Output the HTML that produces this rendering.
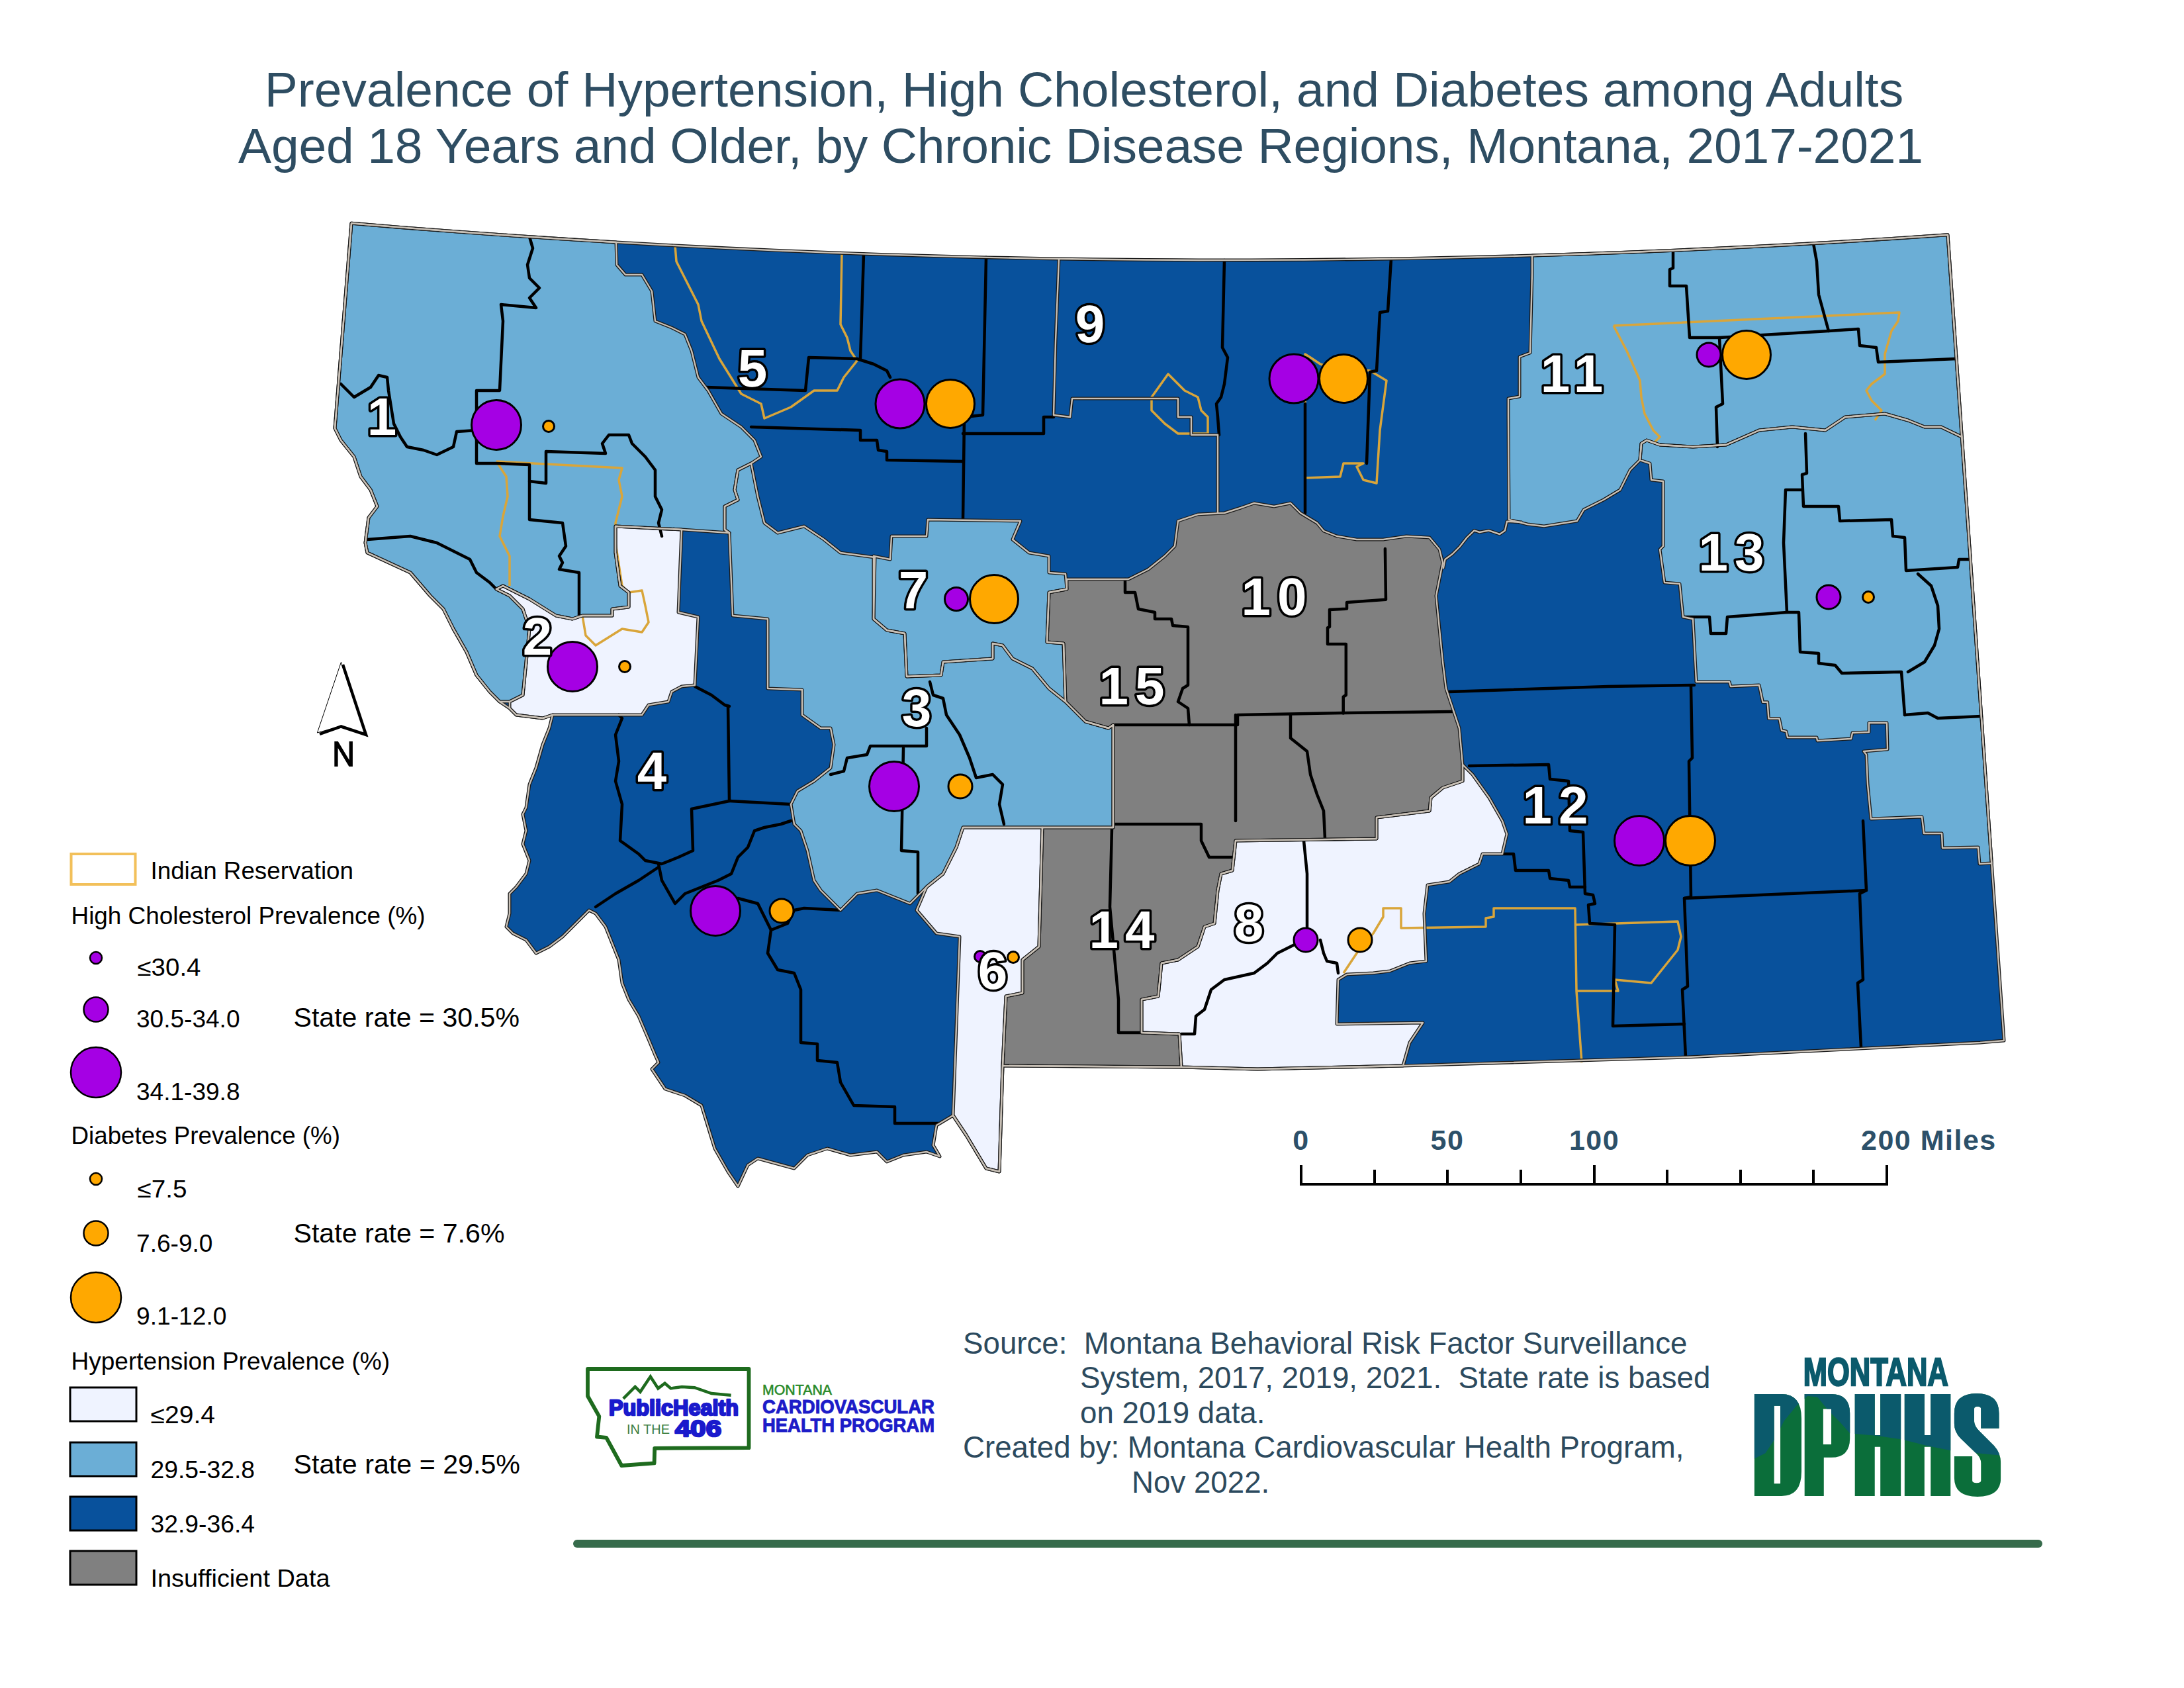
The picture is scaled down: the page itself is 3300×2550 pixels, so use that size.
<!DOCTYPE html><html><head><meta charset="utf-8"><title>Montana Chronic Disease Regions</title><style>html,body{margin:0;padding:0;background:#fff;}svg{display:block;}</style></head><body>
<svg width="3300" height="2550" viewBox="0 0 3300 2550" font-family="'Liberation Sans', sans-serif">
<rect width="3300" height="2550" fill="#fff"/>
<g fill="#2e4d62" font-size="75" text-anchor="middle">
<text x="1638" y="161">Prevalence of Hypertension, High Cholesterol, and Diabetes among Adults</text>
<text x="1633" y="246" textLength="2546" lengthAdjust="spacing">Aged 18 Years and Older, by Chronic Disease Regions, Montana, 2017-2021</text>
</g>
<polygon points="531,337.3 611,343.9 691,350 771,355.7 851,361.1 931,366 1011,370.5 1091,374.6 1171,378.2 1251,381.5 1331,384.4 1411,386.8 1491,388.9 1571,390.5 1651,391.7 1731,392.5 1811,393 1891,392.9 1971,392.5 2051,391.7 2131,390.5 2211,388.8 2291,386.8 2371,384.3 2451,381.4 2531,378.2 2611,374.5 2691,370.4 2771,365.9 2851,360.9 2931,355.6 2943,354.8 3028,1572 2992,1575 2550,1597 2120,1610 1900,1615 1782,1612 1515,1610 1510,1770 1490,1765 1460,1715 1440,1685 1415,1700 1410,1730 1420,1747 1400,1740 1365,1745 1340,1755 1325,1740 1285,1745 1250,1735 1220,1745 1200,1765 1145,1750 1130,1760 1115,1792 1100,1770 1080,1735 1060,1670 1035,1655 1005,1645 985,1615 995,1605 990,1594 980,1570 965,1535 950,1510 940,1485 935,1450 925,1425 915,1400 900,1380 890,1375 870,1395 850,1415 830,1430 810,1440 795,1420 775,1410 765,1400 770,1380 770,1350 780,1340 795,1320 800,1300 790,1275 795,1255 790,1230 795,1220 800,1185 810,1160 820,1125 830,1100 835,1080 820,1085 780,1080 770,1070 755,1060 740,1045 720,1020 705,985 685,950 670,920 650,900 620,865 555,835 552,820 557,782 570,765 560,740 545,720 535,690 515,665 506,647" fill="#08519c"/>
<polygon points="531,337.3 611,343.9 691,350 771,355.7 851,361.1 931,366 932,400 945,415 970,415 985,440 990,485 1015,495 1035,505 1045,530 1055,570 1070,590 1090,625 1120,645 1140,665 1150,690 1135,700 1115,710 1110,740 1115,755 1095,765 1095,800 1102,805 1030,800 930,795 930,835 937,885 950,895 950,917 925,920 925,930 880,930 865,935 840,930 800,905 760,885 750,890 770,900 790,920 800,950 795,1000 790,1050 770,1060 755,1060 740,1045 720,1020 705,985 685,950 670,920 650,900 620,865 555,835 552,820 557,782 570,765 560,740 545,720 535,690 515,665 506,647" fill="#6baed6"/>
<polygon points="1135,700 1140,725 1145,750 1155,790 1175,805 1215,795 1245,815 1270,835 1322,842 1320,935 1340,952 1367,957 1370,1022 1422,1020 1425,1000 1500,995 1500,972 1515,975 1530,995 1560,1010 1585,1040 1610,1060 1640,1090 1675,1100 1682,1095 1682,1250 1455,1250 1445,1280 1425,1320 1400,1340 1375,1365 1350,1355 1325,1345 1295,1350 1270,1375 1240,1345 1230,1330 1220,1285 1210,1255 1200,1245 1195,1215 1205,1195 1230,1180 1255,1160 1260,1125 1255,1100 1240,1100 1212,1080 1212,1042 1160,1040 1160,935 1107,930 1102,805 1095,800 1095,765 1115,755 1110,740 1115,710" fill="#6baed6"/>
<polygon points="1320,840 1345,845 1347,810 1400,810 1402,785 1542,787 1530,815 1555,835 1585,840 1585,865 1610,867 1612,890 1585,895 1582,970 1607,972 1610,1060 1585,1040 1560,1010 1530,995 1515,975 1500,972 1500,995 1425,1000 1422,1020 1370,1022 1367,957 1340,952 1320,935" fill="#6baed6"/>
<polygon points="2315,386.1 2395,383.5 2475,380.5 2555,377.1 2635,373.3 2715,369.1 2795,364.4 2875,359.4 2943,354.8 2964.3,660 2933,645 2908,645 2883,635 2848,625 2788,630 2758,650 2708,645 2658,650 2608,672 2558,675 2508,672 2488,665 2480,670 2478,695 2463,710 2448,740 2423,755 2393,770 2383,787 2333,795 2308,792 2280,785 2279,627 2279,602 2296,599 2296,539 2312,533 2315,412" fill="#6baed6"/>
<polygon points="2478,695 2480,670 2488,665 2508,672 2558,675 2608,672 2658,650 2708,645 2758,650 2788,630 2848,625 2883,635 2908,645 2933,645 2964.3,660 3009.28,1304 2991,1305 2989,1280 2935,1281 2934,1259 2907,1259 2904,1234 2827,1237 2822,1185 2820,1140 2816,1135 2852,1132 2851,1092 2824,1092 2824,1106 2799,1107 2797,1116 2746,1119 2745,1114 2701,1114 2699,1105 2692,1103.3 2688.4,1085.5 2672.4,1085.5 2670.6,1060.7 2663.5,1060.7 2658,1035 2615,1037 2613,1030 2563,1030 2558,935 2543,932 2538,882 2515,880 2508,830 2513,825 2513,727 2495,725 2493,700" fill="#6baed6"/>
<polygon points="930,795 1030,800 1025,925 1055,932 1050,1035 1030,1037 1015,1045 1010,1060 980,1065 970,1080 835,1080 820,1085 780,1080 770,1070 770,1060 790,1050 795,1000 800,950 790,920 770,900 750,890 760,885 800,905 840,930 865,935 880,930 925,930 925,920 950,917 950,895 937,885 930,835" fill="#eff3ff"/>
<polygon points="1455,1250 1575,1250 1570,1430 1545,1450 1545,1500 1520,1505 1515,1610 1510,1770 1490,1765 1460,1715 1440,1685 1450,1415 1415,1410 1385,1375 1400,1340 1425,1320 1445,1280" fill="#eff3ff"/>
<polygon points="1867,1270 2080,1267 2080,1235 2160,1225 2162,1205 2180,1190 2210,1180 2210,1155 2225,1170 2250,1205 2270,1240 2277,1260 2270,1290 2240,1290 2235,1305 2205,1320 2190,1332 2157,1337 2152,1380 2155,1452 2130,1455 2100,1467 2075,1470 2035,1472 2022,1480 2020,1547 2150,1545 2130,1575 2120,1610 1900,1615 1785,1612 1782,1562 1725,1560 1725,1510 1750,1505 1755,1455 1780,1450 1810,1430 1820,1400 1835,1395 1840,1345 1845,1320 1862,1315" fill="#eff3ff"/>
<polygon points="1612,875 1705,875 1735,860 1760,840 1775,825 1780,787 1810,777 1850,775 1875,767 1895,760 1925,765 1950,760 1965,775 1990,790 2000,802 2020,810 2050,815 2090,815 2125,810 2160,812 2175,830 2180,850 2170,900 2175,950 2180,1000 2185,1040 2195,1070 2205,1100 2210,1155 2210,1180 2180,1190 2162,1205 2160,1225 2080,1235 2080,1267 1867,1270 1862,1315 1845,1320 1840,1345 1835,1395 1820,1400 1810,1430 1780,1450 1755,1455 1750,1505 1725,1510 1725,1560 1782,1562 1785,1612 1515,1610 1520,1505 1545,1500 1545,1450 1570,1430 1575,1250 1682,1250 1682,1095 1675,1100 1640,1090 1610,1060 1607,972 1582,970 1585,895 1612,890" fill="#808080"/>
<g fill="none" stroke="#d9a53a" stroke-width="3.5" stroke-linejoin="round">
<polyline points="1020,370.955 1022,395 1055,460 1060,485 1087,542 1120,595 1150,610 1155,632 1195,615 1230,590 1265,590 1275,570 1295,545 1285,530 1280,510 1270,490 1272,382.309"/>
<polyline points="750,697 940,707 935,725 940,750 930,790 930,820 940,885 950,895 970,892 975,915 980,940 970,955 940,950 900,975 885,960 880,930"/>
<polyline points="750,697 765,720 767,750 760,780 755,810 770,840 770,885"/>
<polyline points="1972,610 1972,722 2025,720 2030,700 2060,700 2050,705 2060,725 2080,730 2085,650 2095,575 2070,560 2010,555 1995,550 1980,540 1972,535 1972,610"/>
<polyline points="2438,492 2870,472 2868,485 2858,500 2848,535 2848,565 2828,580 2820,590 2828,605 2843,620 2833,635"/>
<polyline points="2438,492 2458,530 2478,575 2480,600 2485,625 2498,650 2508,660 2498,670"/>
<polyline points="2030,1470 2050,1440 2075,1410 2090,1385 2090,1372 2117,1372 2117,1402 2245,1400 2245,1387 2257,1385 2257,1372 2380,1372 2382,1497 2390,1605"/>
<polyline points="2380,1397 2535,1392 2540,1415 2535,1435 2515,1460 2495,1485 2440,1480 2445,1497 2382,1497"/>
<polygon points="1740,600 1765,565 1790,590 1810,600 1815,620 1825,630 1825,655 1780,655 1760,640 1740,620"/>
</g>
<g fill="none" stroke="#000" stroke-width="4.5" stroke-linejoin="round" stroke-linecap="round">
<polyline points="800,357.72 805,375 797,400 800,420 815,435 800,450 810,465 757,460 760,485 755,590 720,590 720,650 690,652 685,675 660,687 640,680 615,675 605,660 595,640 587,590 585,570 572,567 560,585 535,600 515,580"/>
<polyline points="720,650 720,700 750,700 800,702 800,727 825,730 825,682 915,685 910,670 920,657 950,657 955,670 975,690 990,710 990,750 1000,770 995,790 1000,810"/>
<polyline points="800,727 800,785 850,790 855,825 845,840 850,850 845,860 875,865 875,930"/>
<polyline points="555,815 620,810 660,820 710,845 720,865 740,880 750,890"/>
<polyline points="1067,585 1217,590 1222,540 1295,542 1320,550 1340,560 1345,570"/>
<polyline points="1305,383.495 1300,542"/>
<polyline points="1135,645 1300,650 1300,665 1325,665 1327,680 1340,682 1340,695 1455,697"/>
<polyline points="1490,388.853 1485,627 1457,630 1455,785"/>
<polyline points="1455,655 1577,655 1577,630 1592,630"/>
<polyline points="1850,393 1847,525 1855,540 1850,580 1845,600 1838,610 1840,630 1842,657"/>
<polyline points="2102,390.968 2097,470 2085,472 2082,525 2080,560 2070,562 2065,700"/>
<polyline points="1972,610 1972,775"/>
<polyline points="1700,875 1700,895 1715,895 1720,920 1745,925 1745,935 1770,935 1772,945 1795,947 1795,1035 1787,1040 1780,1060 1795,1070 1797,1095"/>
<polyline points="1685,1095 1870,1095 1870,1080 2030,1077 2195,1075"/>
<polyline points="2029.7,1077.5 2029.7,1052.7 2033.8,1050 2033.8,973 2006,973 2006,948.4 2009,947 2009,921 2035,919.6 2035,910 2094,905.8 2092.9,829"/>
<polyline points="1950,1080 1950,1115 1975,1135 1980,1170 1990,1200 2000,1225 2002,1267"/>
<polyline points="1685,1245 1815,1245 1815,1270 1827,1295 1862,1295"/>
<polyline points="1867,1080 1867,1240"/>
<polyline points="1680,1252 1677,1370 1690,1510 1690,1560 1725,1560"/>
<polyline points="1785,1562 1805,1562 1807,1535 1820,1525 1830,1495 1850,1480 1895,1470 1915,1455 1930,1440 1960,1425"/>
<polyline points="1970,1270 1975,1320 1975,1400"/>
<polyline points="1995,1420 2000,1440 2005,1452 2020,1455 2022,1470"/>
<polyline points="2190,1045 2430,1037 2560,1035"/>
<polyline points="2555,1037 2557,1145 2552,1150 2555,1355 2545,1357 2550,1490 2542,1495 2547,1597"/>
<polyline points="2545,1357 2820,1345"/>
<polyline points="2815,1240 2820,1345 2810,1350 2815,1480 2807,1485 2812,1582"/>
<polyline points="2220,1157 2340,1155 2342,1177 2370,1180 2372,1255 2392,1257 2395,1350 2407,1352 2410,1365 2400,1367 2402,1395 2440,1397 2437,1550 2545,1547"/>
<polyline points="2270,1290 2287,1290 2290,1315 2340,1315 2342,1327 2370,1330 2372,1340 2395,1340"/>
<polyline points="1100,1067 1102,1210 1045,1222 1047,1285 1025,1295 1000,1305 975,1300 965,1290 937,1270 940,1215 930,1180 935,1150 930,1110 940,1085 935,1080"/>
<polyline points="1050,1037 1075,1050 1095,1065 1102,1067"/>
<polyline points="1102,1210 1195,1215"/>
<polyline points="995,1305 1000,1330 1020,1365 1035,1350 1060,1340 1085,1330 1105,1320 1115,1295 1130,1280 1140,1255 1155,1250 1180,1245 1195,1240"/>
<polyline points="900,1370 930,1350 965,1330 995,1310"/>
<polyline points="1115,1357 1145,1365 1160,1395 1165,1405 1190,1395 1200,1375 1215,1372 1270,1375"/>
<polyline points="1165,1405 1160,1440 1175,1465 1200,1470 1210,1495 1210,1575 1235,1577 1235,1602 1265,1605 1270,1635 1290,1670 1352,1672 1352,1697 1418,1697"/>
<polyline points="1400,1100 1400,1127 1315,1127 1310,1140 1280,1145 1275,1165 1255,1170"/>
<polyline points="1365,1130 1362,1285 1387,1287 1387,1350"/>
<polyline points="1405,1030 1410,1050 1425,1055 1430,1080 1440,1095 1450,1110 1465,1145 1475,1175 1500,1170 1515,1185 1510,1215 1517,1245"/>
<polyline points="2728,655 2730,715 2723,717 2725,765 2778,765 2780,787 2858,785 2860,810 2878,812 2880,862 2958,857 2960,845 2977.22,845"/>
<polyline points="2723,740 2698,740 2695,820 2700,925 2718,925 2720,985 2748,987 2748,1002 2773,1005 2783,1017 2873,1015 2878,1080"/>
<polyline points="2543,932 2583,932 2585,957 2608,957 2610,932 2700,925"/>
<polyline points="2898,867 2918,885 2928,915 2930,950 2923,975 2908,1000 2883,1015"/>
<polyline points="2878,1080 2913,1077 2928,1085 2993.78,1082"/>
<polyline points="2528,378.29 2528,405 2523,407 2523,432 2548,432 2553,510 2598,510 2603,610 2593,615 2595,675"/>
<polyline points="2598,510 2763,500 2808,497 2810,522 2835,525 2838,547 2956.06,542"/>
<polyline points="2740,367.653 2745,395 2748,445 2763,500"/>
</g>
<g fill="none" stroke="#1a1a1a" stroke-width="5" stroke-linejoin="round"><polygon points="531,337.3 611,343.9 691,350 771,355.7 851,361.1 931,366 932,400 945,415 970,415 985,440 990,485 1015,495 1035,505 1045,530 1055,570 1070,590 1090,625 1120,645 1140,665 1150,690 1135,700 1115,710 1110,740 1115,755 1095,765 1095,800 1102,805 1030,800 930,795 930,835 937,885 950,895 950,917 925,920 925,930 880,930 865,935 840,930 800,905 760,885 750,890 770,900 790,920 800,950 795,1000 790,1050 770,1060 755,1060 740,1045 720,1020 705,985 685,950 670,920 650,900 620,865 555,835 552,820 557,782 570,765 560,740 545,720 535,690 515,665 506,647"/><polygon points="1135,700 1140,725 1145,750 1155,790 1175,805 1215,795 1245,815 1270,835 1322,842 1320,935 1340,952 1367,957 1370,1022 1422,1020 1425,1000 1500,995 1500,972 1515,975 1530,995 1560,1010 1585,1040 1610,1060 1640,1090 1675,1100 1682,1095 1682,1250 1455,1250 1445,1280 1425,1320 1400,1340 1375,1365 1350,1355 1325,1345 1295,1350 1270,1375 1240,1345 1230,1330 1220,1285 1210,1255 1200,1245 1195,1215 1205,1195 1230,1180 1255,1160 1260,1125 1255,1100 1240,1100 1212,1080 1212,1042 1160,1040 1160,935 1107,930 1102,805 1095,800 1095,765 1115,755 1110,740 1115,710"/><polygon points="1320,840 1345,845 1347,810 1400,810 1402,785 1542,787 1530,815 1555,835 1585,840 1585,865 1610,867 1612,890 1585,895 1582,970 1607,972 1610,1060 1585,1040 1560,1010 1530,995 1515,975 1500,972 1500,995 1425,1000 1422,1020 1370,1022 1367,957 1340,952 1320,935"/><polygon points="2315,386.1 2395,383.5 2475,380.5 2555,377.1 2635,373.3 2715,369.1 2795,364.4 2875,359.4 2943,354.8 2964.3,660 2933,645 2908,645 2883,635 2848,625 2788,630 2758,650 2708,645 2658,650 2608,672 2558,675 2508,672 2488,665 2480,670 2478,695 2463,710 2448,740 2423,755 2393,770 2383,787 2333,795 2308,792 2280,785 2279,627 2279,602 2296,599 2296,539 2312,533 2315,412"/><polygon points="2478,695 2480,670 2488,665 2508,672 2558,675 2608,672 2658,650 2708,645 2758,650 2788,630 2848,625 2883,635 2908,645 2933,645 2964.3,660 3009.28,1304 2991,1305 2989,1280 2935,1281 2934,1259 2907,1259 2904,1234 2827,1237 2822,1185 2820,1140 2816,1135 2852,1132 2851,1092 2824,1092 2824,1106 2799,1107 2797,1116 2746,1119 2745,1114 2701,1114 2699,1105 2692,1103.3 2688.4,1085.5 2672.4,1085.5 2670.6,1060.7 2663.5,1060.7 2658,1035 2615,1037 2613,1030 2563,1030 2558,935 2543,932 2538,882 2515,880 2508,830 2513,825 2513,727 2495,725 2493,700"/><polygon points="930,795 1030,800 1025,925 1055,932 1050,1035 1030,1037 1015,1045 1010,1060 980,1065 970,1080 835,1080 820,1085 780,1080 770,1070 770,1060 790,1050 795,1000 800,950 790,920 770,900 750,890 760,885 800,905 840,930 865,935 880,930 925,930 925,920 950,917 950,895 937,885 930,835"/><polygon points="1455,1250 1575,1250 1570,1430 1545,1450 1545,1500 1520,1505 1515,1610 1510,1770 1490,1765 1460,1715 1440,1685 1450,1415 1415,1410 1385,1375 1400,1340 1425,1320 1445,1280"/><polygon points="1867,1270 2080,1267 2080,1235 2160,1225 2162,1205 2180,1190 2210,1180 2210,1155 2225,1170 2250,1205 2270,1240 2277,1260 2270,1290 2240,1290 2235,1305 2205,1320 2190,1332 2157,1337 2152,1380 2155,1452 2130,1455 2100,1467 2075,1470 2035,1472 2022,1480 2020,1547 2150,1545 2130,1575 2120,1610 1900,1615 1785,1612 1782,1562 1725,1560 1725,1510 1750,1505 1755,1455 1780,1450 1810,1430 1820,1400 1835,1395 1840,1345 1845,1320 1862,1315"/><polygon points="1612,875 1705,875 1735,860 1760,840 1775,825 1780,787 1810,777 1850,775 1875,767 1895,760 1925,765 1950,760 1965,775 1990,790 2000,802 2020,810 2050,815 2090,815 2125,810 2160,812 2175,830 2180,850 2170,900 2175,950 2180,1000 2185,1040 2195,1070 2205,1100 2210,1155 2210,1180 2180,1190 2162,1205 2160,1225 2080,1235 2080,1267 1867,1270 1862,1315 1845,1320 1840,1345 1835,1395 1820,1400 1810,1430 1780,1450 1755,1455 1750,1505 1725,1510 1725,1560 1782,1562 1785,1612 1515,1610 1520,1505 1545,1500 1545,1450 1570,1430 1575,1250 1682,1250 1682,1095 1675,1100 1640,1090 1610,1060 1607,972 1582,970 1585,895 1612,890"/><polyline points="1600,391 1595,515 1592,627 1617,630 1620,602 1780,602 1780,630 1800,630 1800,657 1840,657 1840,775"/><polyline points="2300,789 2277,787.7 2274,801.4 2266,807 2249.5,801.4 2235.7,804 2227.5,801.4 2216.5,812 2205.5,826 2194.5,837 2183.5,845 2180.8,859"/><polygon points="531,337.3 611,343.9 691,350 771,355.7 851,361.1 931,366 1011,370.5 1091,374.6 1171,378.2 1251,381.5 1331,384.4 1411,386.8 1491,388.9 1571,390.5 1651,391.7 1731,392.5 1811,393 1891,392.9 1971,392.5 2051,391.7 2131,390.5 2211,388.8 2291,386.8 2371,384.3 2451,381.4 2531,378.2 2611,374.5 2691,370.4 2771,365.9 2851,360.9 2931,355.6 2943,354.8 3028,1572 2992,1575 2550,1597 2120,1610 1900,1615 1782,1612 1515,1610 1510,1770 1490,1765 1460,1715 1440,1685 1415,1700 1410,1730 1420,1747 1400,1740 1365,1745 1340,1755 1325,1740 1285,1745 1250,1735 1220,1745 1200,1765 1145,1750 1130,1760 1115,1792 1100,1770 1080,1735 1060,1670 1035,1655 1005,1645 985,1615 995,1605 990,1594 980,1570 965,1535 950,1510 940,1485 935,1450 925,1425 915,1400 900,1380 890,1375 870,1395 850,1415 830,1430 810,1440 795,1420 775,1410 765,1400 770,1380 770,1350 780,1340 795,1320 800,1300 790,1275 795,1255 790,1230 795,1220 800,1185 810,1160 820,1125 830,1100 835,1080 820,1085 780,1080 770,1070 755,1060 740,1045 720,1020 705,985 685,950 670,920 650,900 620,865 555,835 552,820 557,782 570,765 560,740 545,720 535,690 515,665 506,647"/></g>
<g fill="none" stroke="#c8c0b6" stroke-width="2.4" stroke-linejoin="round"><polygon points="531,337.3 611,343.9 691,350 771,355.7 851,361.1 931,366 932,400 945,415 970,415 985,440 990,485 1015,495 1035,505 1045,530 1055,570 1070,590 1090,625 1120,645 1140,665 1150,690 1135,700 1115,710 1110,740 1115,755 1095,765 1095,800 1102,805 1030,800 930,795 930,835 937,885 950,895 950,917 925,920 925,930 880,930 865,935 840,930 800,905 760,885 750,890 770,900 790,920 800,950 795,1000 790,1050 770,1060 755,1060 740,1045 720,1020 705,985 685,950 670,920 650,900 620,865 555,835 552,820 557,782 570,765 560,740 545,720 535,690 515,665 506,647"/><polygon points="1135,700 1140,725 1145,750 1155,790 1175,805 1215,795 1245,815 1270,835 1322,842 1320,935 1340,952 1367,957 1370,1022 1422,1020 1425,1000 1500,995 1500,972 1515,975 1530,995 1560,1010 1585,1040 1610,1060 1640,1090 1675,1100 1682,1095 1682,1250 1455,1250 1445,1280 1425,1320 1400,1340 1375,1365 1350,1355 1325,1345 1295,1350 1270,1375 1240,1345 1230,1330 1220,1285 1210,1255 1200,1245 1195,1215 1205,1195 1230,1180 1255,1160 1260,1125 1255,1100 1240,1100 1212,1080 1212,1042 1160,1040 1160,935 1107,930 1102,805 1095,800 1095,765 1115,755 1110,740 1115,710"/><polygon points="1320,840 1345,845 1347,810 1400,810 1402,785 1542,787 1530,815 1555,835 1585,840 1585,865 1610,867 1612,890 1585,895 1582,970 1607,972 1610,1060 1585,1040 1560,1010 1530,995 1515,975 1500,972 1500,995 1425,1000 1422,1020 1370,1022 1367,957 1340,952 1320,935"/><polygon points="2315,386.1 2395,383.5 2475,380.5 2555,377.1 2635,373.3 2715,369.1 2795,364.4 2875,359.4 2943,354.8 2964.3,660 2933,645 2908,645 2883,635 2848,625 2788,630 2758,650 2708,645 2658,650 2608,672 2558,675 2508,672 2488,665 2480,670 2478,695 2463,710 2448,740 2423,755 2393,770 2383,787 2333,795 2308,792 2280,785 2279,627 2279,602 2296,599 2296,539 2312,533 2315,412"/><polygon points="2478,695 2480,670 2488,665 2508,672 2558,675 2608,672 2658,650 2708,645 2758,650 2788,630 2848,625 2883,635 2908,645 2933,645 2964.3,660 3009.28,1304 2991,1305 2989,1280 2935,1281 2934,1259 2907,1259 2904,1234 2827,1237 2822,1185 2820,1140 2816,1135 2852,1132 2851,1092 2824,1092 2824,1106 2799,1107 2797,1116 2746,1119 2745,1114 2701,1114 2699,1105 2692,1103.3 2688.4,1085.5 2672.4,1085.5 2670.6,1060.7 2663.5,1060.7 2658,1035 2615,1037 2613,1030 2563,1030 2558,935 2543,932 2538,882 2515,880 2508,830 2513,825 2513,727 2495,725 2493,700"/><polygon points="930,795 1030,800 1025,925 1055,932 1050,1035 1030,1037 1015,1045 1010,1060 980,1065 970,1080 835,1080 820,1085 780,1080 770,1070 770,1060 790,1050 795,1000 800,950 790,920 770,900 750,890 760,885 800,905 840,930 865,935 880,930 925,930 925,920 950,917 950,895 937,885 930,835"/><polygon points="1455,1250 1575,1250 1570,1430 1545,1450 1545,1500 1520,1505 1515,1610 1510,1770 1490,1765 1460,1715 1440,1685 1450,1415 1415,1410 1385,1375 1400,1340 1425,1320 1445,1280"/><polygon points="1867,1270 2080,1267 2080,1235 2160,1225 2162,1205 2180,1190 2210,1180 2210,1155 2225,1170 2250,1205 2270,1240 2277,1260 2270,1290 2240,1290 2235,1305 2205,1320 2190,1332 2157,1337 2152,1380 2155,1452 2130,1455 2100,1467 2075,1470 2035,1472 2022,1480 2020,1547 2150,1545 2130,1575 2120,1610 1900,1615 1785,1612 1782,1562 1725,1560 1725,1510 1750,1505 1755,1455 1780,1450 1810,1430 1820,1400 1835,1395 1840,1345 1845,1320 1862,1315"/><polygon points="1612,875 1705,875 1735,860 1760,840 1775,825 1780,787 1810,777 1850,775 1875,767 1895,760 1925,765 1950,760 1965,775 1990,790 2000,802 2020,810 2050,815 2090,815 2125,810 2160,812 2175,830 2180,850 2170,900 2175,950 2180,1000 2185,1040 2195,1070 2205,1100 2210,1155 2210,1180 2180,1190 2162,1205 2160,1225 2080,1235 2080,1267 1867,1270 1862,1315 1845,1320 1840,1345 1835,1395 1820,1400 1810,1430 1780,1450 1755,1455 1750,1505 1725,1510 1725,1560 1782,1562 1785,1612 1515,1610 1520,1505 1545,1500 1545,1450 1570,1430 1575,1250 1682,1250 1682,1095 1675,1100 1640,1090 1610,1060 1607,972 1582,970 1585,895 1612,890"/><polyline points="1600,391 1595,515 1592,627 1617,630 1620,602 1780,602 1780,630 1800,630 1800,657 1840,657 1840,775"/><polyline points="2300,789 2277,787.7 2274,801.4 2266,807 2249.5,801.4 2235.7,804 2227.5,801.4 2216.5,812 2205.5,826 2194.5,837 2183.5,845 2180.8,859"/><polygon points="531,337.3 611,343.9 691,350 771,355.7 851,361.1 931,366 1011,370.5 1091,374.6 1171,378.2 1251,381.5 1331,384.4 1411,386.8 1491,388.9 1571,390.5 1651,391.7 1731,392.5 1811,393 1891,392.9 1971,392.5 2051,391.7 2131,390.5 2211,388.8 2291,386.8 2371,384.3 2451,381.4 2531,378.2 2611,374.5 2691,370.4 2771,365.9 2851,360.9 2931,355.6 2943,354.8 3028,1572 2992,1575 2550,1597 2120,1610 1900,1615 1782,1612 1515,1610 1510,1770 1490,1765 1460,1715 1440,1685 1415,1700 1410,1730 1420,1747 1400,1740 1365,1745 1340,1755 1325,1740 1285,1745 1250,1735 1220,1745 1200,1765 1145,1750 1130,1760 1115,1792 1100,1770 1080,1735 1060,1670 1035,1655 1005,1645 985,1615 995,1605 990,1594 980,1570 965,1535 950,1510 940,1485 935,1450 925,1425 915,1400 900,1380 890,1375 870,1395 850,1415 830,1430 810,1440 795,1420 775,1410 765,1400 770,1380 770,1350 780,1340 795,1320 800,1300 790,1275 795,1255 790,1230 795,1220 800,1185 810,1160 820,1125 830,1100 835,1080 820,1085 780,1080 770,1070 755,1060 740,1045 720,1020 705,985 685,950 670,920 650,900 620,865 555,835 552,820 557,782 570,765 560,740 545,720 535,690 515,665 506,647"/></g>
<g stroke="#000" stroke-width="3">
<circle cx="750" cy="642" r="37.5" fill="#a500e4"/>
<circle cx="829" cy="644" r="8.5" fill="#ffa800"/>
<circle cx="1360" cy="610" r="37" fill="#a500e4"/>
<circle cx="1436" cy="610" r="36.5" fill="#ffa800"/>
<circle cx="1955" cy="572" r="37" fill="#a500e4"/>
<circle cx="2030" cy="572" r="36.5" fill="#ffa800"/>
<circle cx="1445" cy="905" r="17.5" fill="#a500e4"/>
<circle cx="1502" cy="905" r="36.5" fill="#ffa800"/>
<circle cx="865" cy="1007" r="37.5" fill="#a500e4"/>
<circle cx="944" cy="1007" r="8.5" fill="#ffa800"/>
<circle cx="1351" cy="1188" r="37.5" fill="#a500e4"/>
<circle cx="1451" cy="1188" r="18" fill="#ffa800"/>
<circle cx="1081" cy="1376" r="37.5" fill="#a500e4"/>
<circle cx="1181" cy="1376" r="18" fill="#ffa800"/>
<circle cx="1481" cy="1445" r="8.5" fill="#a500e4"/>
<circle cx="1531" cy="1446" r="8.5" fill="#ffa800"/>
<circle cx="1973" cy="1420" r="18" fill="#a500e4"/>
<circle cx="2055" cy="1420" r="18" fill="#ffa800"/>
<circle cx="2477" cy="1270" r="37.5" fill="#a500e4"/>
<circle cx="2554" cy="1270" r="37.5" fill="#ffa800"/>
<circle cx="2582" cy="536" r="18" fill="#a500e4"/>
<circle cx="2639" cy="536" r="36.5" fill="#ffa800"/>
<circle cx="2763" cy="902" r="18" fill="#a500e4"/>
<circle cx="2823" cy="902" r="8.5" fill="#ffa800"/>
</g>
<g font-size="80" font-weight="bold" fill="#fff" stroke="#000" stroke-width="7" paint-order="stroke" text-anchor="middle" stroke-linejoin="round" text-rendering="geometricPrecision">
<text x="577" y="657" letter-spacing="0">1</text>
<text x="1137" y="584" letter-spacing="0">5</text>
<text x="1647" y="517" letter-spacing="0">9</text>
<text x="1380" y="919" letter-spacing="0">7</text>
<text x="1930" y="929" letter-spacing="10">10</text>
<text x="1715" y="1064" letter-spacing="10">15</text>
<text x="1385" y="1097" letter-spacing="0">3</text>
<text x="2380" y="592" letter-spacing="10">11</text>
<text x="2621" y="862" letter-spacing="10">13</text>
<text x="812" y="989" letter-spacing="0">2</text>
<text x="985" y="1192" letter-spacing="0">4</text>
<text x="1500" y="1494" letter-spacing="0">6</text>
<text x="1700" y="1432" letter-spacing="10">14</text>
<text x="1887" y="1422" letter-spacing="0">8</text>
<text x="2355" y="1244" letter-spacing="10">12</text>
</g>
<g>
<polygon points="515.4,1000.3 479.4,1107 515.4,1096.5 554.9,1112.3" fill="#fff" stroke="#000" stroke-width="1"/>
<polyline points="518,1004 553,1110 515.4,1097.5 483,1109" fill="none" stroke="#000" stroke-width="4.5" stroke-linejoin="miter"/>
<path d="M505.3,1158 V1120 H510.8 L527.6,1148 V1120 H532.9 V1158 H527.4 L510.6,1130 V1158 Z" fill="#000"/>
</g>
<g font-size="36" fill="#000">
<rect x="107.5" y="1290" width="97" height="46" fill="none" stroke="#f2c05a" stroke-width="4"/>
<text x="227.5" y="1327.5" textLength="306.5" lengthAdjust="spacingAndGlyphs">Indian Reservation</text>
<text x="107.5" y="1396" textLength="535" lengthAdjust="spacingAndGlyphs">High Cholesterol Prevalence (%)</text>
<circle cx="145" cy="1447" r="9" fill="#a500e4" stroke="#000" stroke-width="2.5"/>
<circle cx="145" cy="1525" r="18.5" fill="#a500e4" stroke="#000" stroke-width="2.5"/>
<circle cx="145" cy="1620" r="38" fill="#a500e4" stroke="#000" stroke-width="2.5"/>
<text x="207.5" y="1474" textLength="96" lengthAdjust="spacingAndGlyphs">≤30.4</text>
<text x="206" y="1552" textLength="156.5" lengthAdjust="spacingAndGlyphs">30.5-34.0</text>
<text x="206" y="1662" textLength="156.5" lengthAdjust="spacingAndGlyphs">34.1-39.8</text>
<text x="107.5" y="1728" textLength="406.5" lengthAdjust="spacingAndGlyphs">Diabetes Prevalence (%)</text>
<circle cx="145" cy="1781" r="9" fill="#ffa800" stroke="#000" stroke-width="2.5"/>
<circle cx="145" cy="1863" r="18.5" fill="#ffa800" stroke="#000" stroke-width="2.5"/>
<circle cx="145" cy="1960" r="38" fill="#ffa800" stroke="#000" stroke-width="2.5"/>
<text x="207.5" y="1809" textLength="75" lengthAdjust="spacingAndGlyphs">≤7.5</text>
<text x="206" y="1891" textLength="115.5" lengthAdjust="spacingAndGlyphs">7.6-9.0</text>
<text x="206" y="2001" textLength="136.5" lengthAdjust="spacingAndGlyphs">9.1-12.0</text>
<text x="107.5" y="2069" textLength="481.5" lengthAdjust="spacingAndGlyphs">Hypertension Prevalence (%)</text>
<rect x="106" y="2096" width="100" height="51" fill="#eff3ff" stroke="#000" stroke-width="3"/>
<text x="227.5" y="2150" textLength="97.5" lengthAdjust="spacingAndGlyphs">≤29.4</text>
<rect x="106" y="2179" width="100" height="51" fill="#6baed6" stroke="#000" stroke-width="3"/>
<text x="227.5" y="2233" textLength="157.5" lengthAdjust="spacingAndGlyphs">29.5-32.8</text>
<rect x="106" y="2261" width="100" height="51" fill="#08519c" stroke="#000" stroke-width="3"/>
<text x="227.5" y="2315" textLength="157.5" lengthAdjust="spacingAndGlyphs">32.9-36.4</text>
<rect x="106" y="2343" width="100" height="51" fill="#808080" stroke="#000" stroke-width="3"/>
<text x="227.5" y="2397" textLength="271" lengthAdjust="spacingAndGlyphs">Insufficient Data</text>
</g>
<g font-size="41" fill="#000">
<text x="443.5" y="1551" textLength="341.5" lengthAdjust="spacingAndGlyphs">State rate = 30.5%</text>
<text x="443.5" y="1877" textLength="319" lengthAdjust="spacingAndGlyphs">State rate = 7.6%</text>
<text x="443.5" y="2226" textLength="342.5" lengthAdjust="spacingAndGlyphs">State rate = 29.5%</text>
</g>
<g fill="#2c5069" font-size="43" font-weight="bold" text-anchor="middle" letter-spacing="1.5">
<text x="1966" y="1737">0</text><text x="2187" y="1737">50</text><text x="2409" y="1737">100</text>
<text x="2812" y="1737" text-anchor="start">200 Miles</text>
</g>
<g stroke="#000" stroke-width="4" fill="none"><polyline points="1966,1760 1966,1789 2851,1789 2851,1760"/><line x1="1966" y1="1760" x2="1966" y2="1789"/><line x1="2077" y1="1767" x2="2077" y2="1789"/><line x1="2187" y1="1767" x2="2187" y2="1789"/><line x1="2298" y1="1767" x2="2298" y2="1789"/><line x1="2409" y1="1760" x2="2409" y2="1789"/><line x1="2519" y1="1767" x2="2519" y2="1789"/><line x1="2630" y1="1767" x2="2630" y2="1789"/><line x1="2740" y1="1767" x2="2740" y2="1789"/><line x1="2851" y1="1760" x2="2851" y2="1789"/></g>
<g fill="#2c4a5e" font-size="45.7">
<text x="1455" y="2045" xml:space="preserve">Source:  Montana Behavioral Risk Factor Surveillance</text>
<text x="1632" y="2097" xml:space="preserve">System, 2017, 2019, 2021.  State rate is based</text>
<text x="1632" y="2150">on 2019 data.</text>
<text x="1455" y="2202">Created by: Montana Cardiovascular Health Program,</text>
<text x="1710" y="2255">Nov 2022.</text>
</g>
<line x1="872" y1="2332" x2="3080" y2="2332" stroke="#366b4b" stroke-width="12" stroke-linecap="round"/>
<polygon points="888,2068 1131.5,2068 1131.5,2187.2 989.2,2187.8 988.6,2210.3 939.2,2214 916.2,2171.8 902,2170.5 905.3,2139.7 888,2109" fill="#fff" stroke="#1e6b1e" stroke-width="5.8" stroke-linejoin="round"/>
<polyline points="941.8,2112.8 959.7,2094.9 967.4,2102.6 982.8,2079.5 994.4,2097.4 1004.6,2089.7 1013.6,2097.4 1030.3,2094.9 1049.5,2096.2 1075.1,2105.1 1104.6,2107.7" fill="none" stroke="#1e6b1e" stroke-width="4.5" stroke-linejoin="miter"/>
<text x="920" y="2137.8" font-size="34" font-weight="bold" fill="#1a1acc" stroke="#1a1acc" stroke-width="2.6" stroke-linejoin="round" textLength="196" lengthAdjust="spacingAndGlyphs">PublicHealth</text>
<text x="947" y="2166" font-size="20" fill="#3d7d3d" textLength="65" lengthAdjust="spacingAndGlyphs">IN THE</text>
<text x="1020" y="2169.5" font-size="35" font-weight="bold" fill="#1a1acc" stroke="#1a1acc" stroke-width="2.6" stroke-linejoin="round" textLength="70" lengthAdjust="spacingAndGlyphs">406</text>
<text x="1152" y="2107" font-size="22" fill="#2a8a2a" stroke="#2a8a2a" stroke-width="0.6" textLength="105" lengthAdjust="spacingAndGlyphs">MONTANA</text>
<text x="1152" y="2135" font-size="30" font-weight="bold" fill="#1c1cc8" stroke="#1c1cc8" stroke-width="1" textLength="260" lengthAdjust="spacingAndGlyphs">CARDIOVASCULAR</text>
<text x="1152" y="2163" font-size="30" font-weight="bold" fill="#1c1cc8" stroke="#1c1cc8" stroke-width="1" textLength="260" lengthAdjust="spacingAndGlyphs">HEALTH PROGRAM</text>
<text x="2724.8" y="2093" font-size="60" font-weight="bold" fill="#0b5a6c" stroke="#0b5a6c" stroke-width="2.5" textLength="219" lengthAdjust="spacingAndGlyphs">MONTANA</text>
<defs><clipPath id="dphhs"><path fill-rule="evenodd" d="M110,405 L330,405 Q490,405 490,600 L490,1030 Q490,1225 330,1225 L110,1225 Z M270,500 L270,1125 L320,1125 L320,500 Z M515,405 L730,405 Q880,405 880,560 L880,760 Q880,915 730,915 L670,915 L670,1225 L515,1225 Z M665,525 L665,810 L730,810 L730,525 Z M920,405 L1080,405 L1080,735 L1125,735 L1125,405 L1290,405 L1290,1225 L1125,1225 L1125,830 L1080,830 L1080,1225 L920,1225 Z M1320,405 L1480,405 L1480,735 L1530,735 L1530,405 L1690,405 L1690,1225 L1530,1225 L1530,830 L1480,830 L1480,1225 L1320,1225 Z M1720,560 Q1720,400 1900,400 Q2080,400 2080,560 L2080,680 L1935,680 L1935,525 Q1935,505 1907,505 Q1880,505 1880,525 L1880,620 Q1880,660 1920,700 L2040,820 Q2095,880 2095,960 L2095,1080 Q2095,1230 1907,1230 Q1720,1230 1720,1080 L1720,905 L1865,905 L1865,1100 Q1865,1120 1900,1120 Q1935,1120 1935,1100 L1935,960 Q1935,920 1900,885 L1770,760 Q1720,710 1720,640 Z"/></clipPath></defs>
<g transform="translate(2630,2030) scale(0.18773)">
<g clip-path="url(#dphhs)">
<rect x="100" y="390" width="2010" height="850" fill="#0b6e3a"/>
<path d="M100,390 L2110,390 L2110,900 L1700,860 L1500,820 L1300,770 L1100,740 L880,720 L800,630 L700,530 L620,430 L540,420 L450,500 L350,620 L280,760 L200,880 L100,930 Z" fill="#0b5a6c"/>
</g></g>
</svg></body></html>
